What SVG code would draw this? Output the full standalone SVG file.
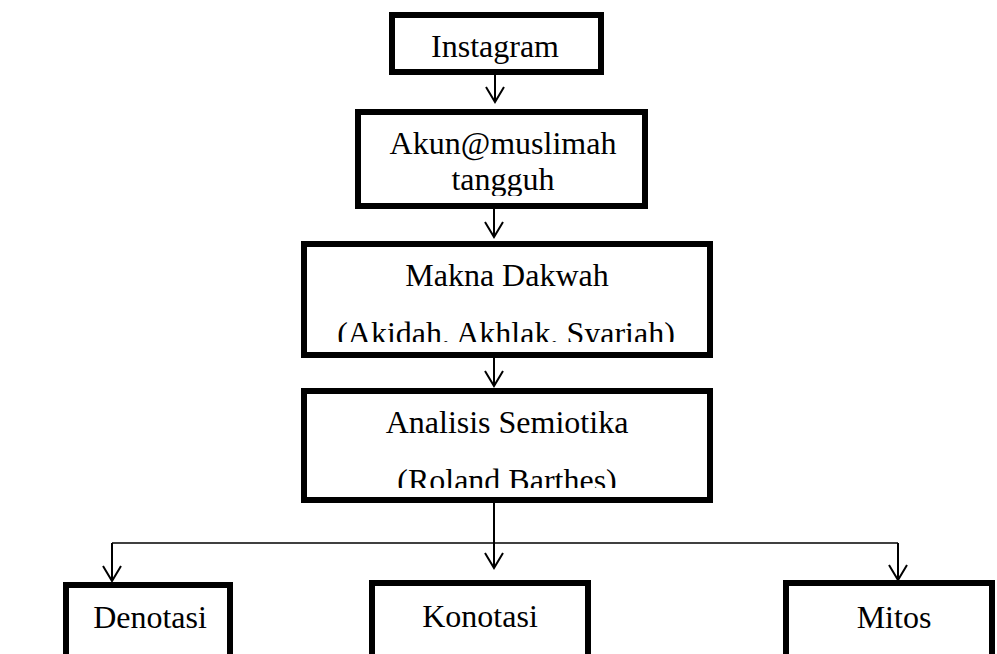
<svg xmlns="http://www.w3.org/2000/svg" width="997" height="654" viewBox="0 0 997 654">
<style>
.box{fill:#fff;stroke:#000;stroke-width:6}
.t{font-family:"Liberation Serif","Times New Roman",serif;font-size:32px;fill:#000;text-anchor:middle}
.c{fill:none;stroke:#000;stroke-width:2}
.h{fill:none;stroke:#000;stroke-width:1.6}
</style>
<defs>
<marker id="arr" markerUnits="userSpaceOnUse" viewBox="-17 -11 19 22" refX="0" refY="0" markerWidth="19" markerHeight="22" orient="auto" overflow="visible">
<path d="M-15,-9 L0,0 L-15,9" fill="none" stroke="#000" stroke-width="2"/>
</marker>
<clipPath id="clipAkun"><rect x="361" y="115" width="281" height="81"/></clipPath>
<clipPath id="clipMakna"><rect x="307" y="247" width="400" height="95"/></clipPath>
<clipPath id="clipAnalisis"><rect x="307" y="394" width="400" height="94"/></clipPath>
</defs>
<rect width="997" height="654" fill="#fff"/>
<g id="connectors">
<path class="c" d="M495,75 V102" marker-end="url(#arr)"/>
<path class="c" d="M494,209 V237" marker-end="url(#arr)"/>
<path class="c" d="M494,358 V386" marker-end="url(#arr)"/>
<path class="c" d="M494,503 V568" marker-end="url(#arr)"/>
<path class="h" d="M112,543 H898"/>
<path class="c" d="M112,543 V581" marker-end="url(#arr)"/>
<path class="c" d="M898,543 V580" marker-end="url(#arr)"/>
</g>
<g id="instagram">
<rect class="box" x="392" y="15" width="209" height="57"/>
<text class="t" x="495" y="57">Instagram</text>
</g>
<g id="akun">
<rect class="box" x="358" y="112" width="287" height="94"/>
<g clip-path="url(#clipAkun)">
<text class="t" x="503" y="154">Akun@muslimah</text>
<text class="t" x="503" y="190">tangguh</text>
</g>
</g>
<g id="makna">
<rect class="box" x="304" y="244" width="406" height="111"/>
<g clip-path="url(#clipMakna)">
<text class="t" x="507" y="286">Makna Dakwah</text>
<text class="t" x="506" y="344">(Akidah, Akhlak, Syariah)</text>
</g>
</g>
<g id="analisis">
<rect class="box" x="304" y="391" width="406" height="109"/>
<g clip-path="url(#clipAnalisis)">
<text class="t" x="507" y="433">Analisis Semiotika</text>
<text class="t" x="507" y="491">(Roland Barthes)</text>
</g>
</g>
<g id="denotasi">
<rect class="box" x="66" y="585" width="164" height="100"/>
<text class="t" x="150" y="628">Denotasi</text>
</g>
<g id="konotasi">
<rect class="box" x="372" y="583" width="216" height="100"/>
<text class="t" x="480" y="627">Konotasi</text>
</g>
<g id="mitos">
<rect class="box" x="786" y="583" width="206" height="100"/>
<text class="t" x="894" y="628">Mitos</text>
</g>
</svg>
